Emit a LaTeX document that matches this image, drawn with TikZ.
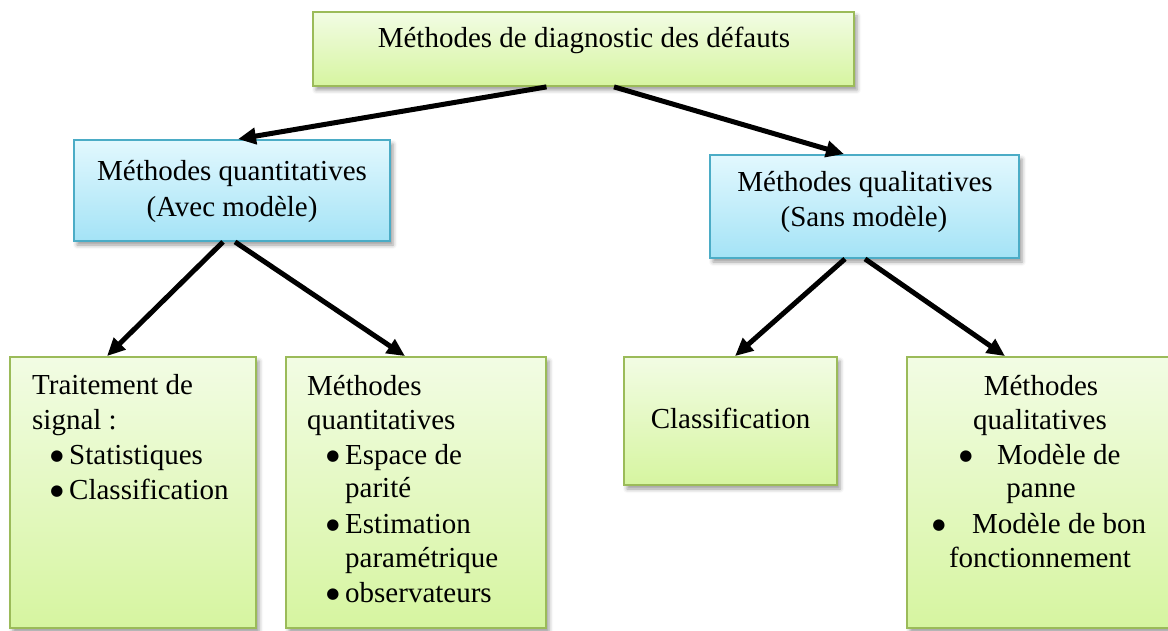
\documentclass[tikz,border=0pt]{standalone}
\usepackage{fontspec}
\setmainfont{Liberation Serif}
\newfontfamily\symfont{DejaVu Sans}
\usetikzlibrary{arrows.meta,shadows.blur}

\definecolor{gtop}{HTML}{F2FCE4}
\definecolor{gbot}{HTML}{D6F5A0}
\definecolor{gline}{HTML}{9BBB59}
\definecolor{btop}{HTML}{E2F8FE}
\definecolor{bbot}{HTML}{A4E3F6}
\definecolor{bline}{HTML}{4BACC6}

% list bullet
\newcommand{\bigbullet}{{\symfont\fontsize{15}{18}\selectfont\raisebox{4pt}{●}}}

\tikzset{
  box/.style={rectangle, draw, line width=1.8pt, inner sep=0pt,
    blur shadow={shadow xshift=3pt, shadow yshift=-4pt,
                 shadow blur radius=4pt, shadow opacity=40}},
  greenbox/.style={box, draw=gline, top color=gtop, bottom color=gbot},
  bluebox/.style={box, draw=bline, top color=btop, bottom color=bbot},
  txt/.style={inner sep=0pt, font=\fontsize{29}{35}\selectfont},
  line/.style={txt, anchor=base},
  lline/.style={txt, anchor=base west},
  bul/.style={txt, anchor=base},
  link/.style={line width=5pt, -{Triangle[length=18pt,width=16pt]}},
}

\begin{document}
\begin{tikzpicture}[x=1pt, y=-1pt]
  \useasboundingbox (0,0) rectangle (1168,631);

  % boxes
  \node[greenbox, minimum width=541pt, minimum height=74pt]  (tb) at (583.5,49)  {};
  \node[bluebox,  minimum width=316pt, minimum height=101pt] (lb) at (232,190.5) {};
  \node[bluebox,  minimum width=309pt, minimum height=103pt] (rb) at (864.5,206.5) {};
  \node[greenbox, minimum width=246pt, minimum height=271pt] (b1) at (133,492.5) {};
  \node[greenbox, minimum width=260pt, minimum height=271pt] (b2) at (416,492.5) {};
  \node[greenbox, minimum width=213pt, minimum height=128pt] (b3) at (730.5,421) {};
  \node[greenbox, minimum width=268pt, minimum height=271pt] (b4) at (1041,492.5) {};

  % top box
  \node[line] (t0) at (584,48) {Méthodes de diagnostic des défauts};

  % second level
  \node[line] (l1) at (232,181) {Méthodes quantitatives};
  \node[line] (l2) at (232,217) {(Avec modèle)};
  \node[line] (r1) at (865,192) {Méthodes qualitatives};
  \node[line] (r2) at (864,227) {(Sans modèle)};

  % signal processing
  \node[lline] (a1) at (32,394) {Traitement de};
  \node[lline] (a2) at (32,429) {signal :};
  \node[bul]   (a3b) at (57,464) {\bigbullet};
  \node[lline] (a3) at (69,464) {Statistiques};
  \node[bul]   (a4b) at (57,499) {\bigbullet};
  \node[lline] (a4) at (69,499) {Classification};

  % quantitative methods
  \node[lline] (c1) at (307,395) {Méthodes};
  \node[lline] (c2) at (307,429) {quantitatives};
  \node[bul]   (c3b) at (333,464) {\bigbullet};
  \node[lline] (c3) at (345,464) {Espace de};
  \node[lline] (c4) at (345,497) {parité};
  \node[bul]   (c5b) at (333,533) {\bigbullet};
  \node[lline] (c5) at (345,533) {Estimation};
  \node[lline] (c6) at (345,567) {paramétrique};
  \node[bul]   (c7b) at (333,602) {\bigbullet};
  \node[lline] (c7) at (345,602) {observateurs};

  % classification
  \node[line] (d1) at (730.5,428) {Classification};

  % qualitative methods
  \node[line]  (e1) at (1041,395) {Méthodes};
  \node[line]  (e2) at (1040,429) {qualitatives};
  \node[bul]   (e3b) at (966,464) {\bigbullet};
  \node[lline] (e3) at (997,464) {Modèle de};
  \node[line]  (e4) at (1041,497) {panne};
  \node[bul]   (e5b) at (939,533) {\bigbullet};
  \node[lline] (e5) at (972,533) {Modèle de bon};
  \node[line]  (e6) at (1040,567) {fonctionnement};

  % connectors
  \draw[link] ([xshift=-37pt]tb.south) -- ([xshift=6pt]lb.north);
  \draw[link] ([xshift=30.5pt]tb.south) -- ([xshift=-20.5pt]rb.north);
  \draw[link] ([xshift=-9pt]lb.south) -- ([xshift=-26pt]b1.north);
  \draw[link] ([xshift=3pt]lb.south) -- ([xshift=-11pt]b2.north);
  \draw[link] ([xshift=-19.5pt]rb.south) -- ([xshift=4.5pt]b3.north);
  \draw[link] ([xshift=0.5pt]rb.south) -- ([xshift=-36pt]b4.north);
\end{tikzpicture}
\end{document}
